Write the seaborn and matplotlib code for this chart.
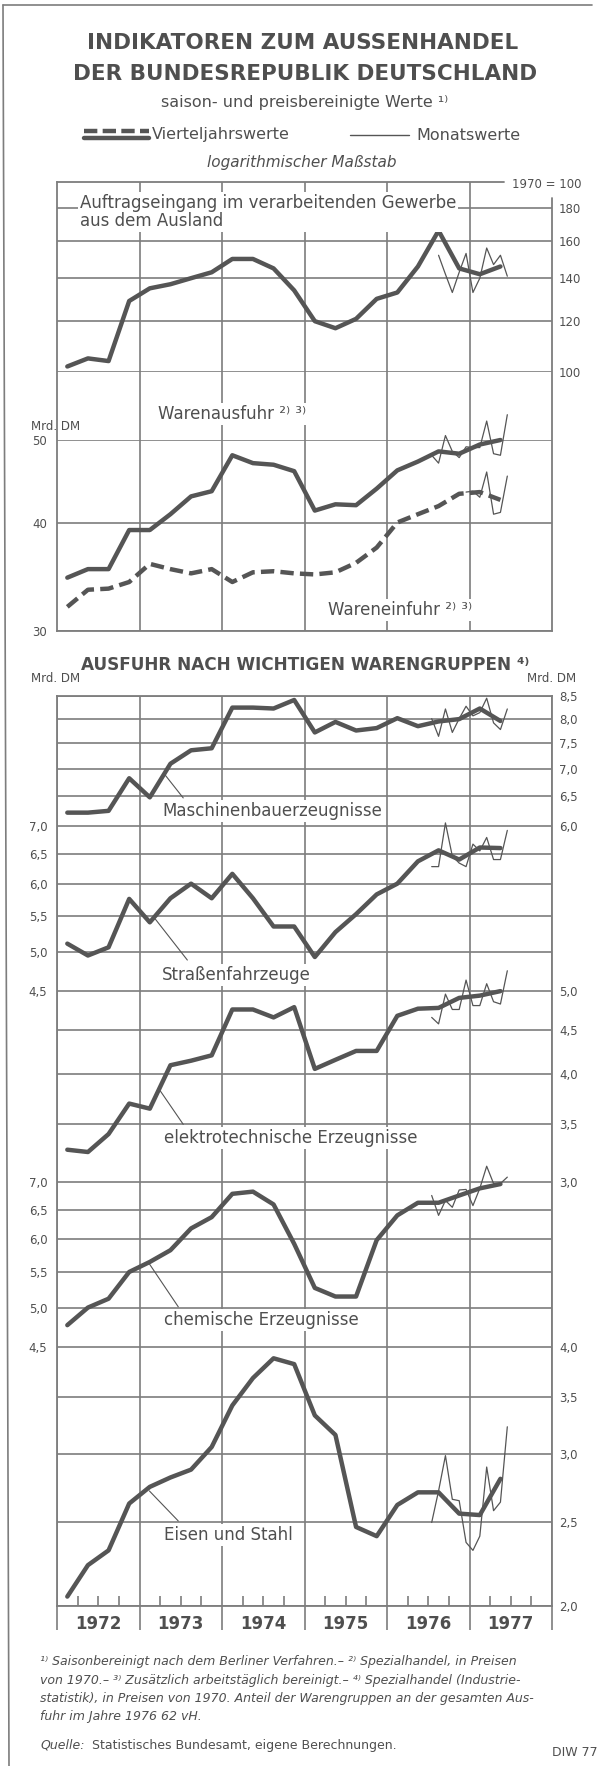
import numpy as np
import pandas as pd
import matplotlib
matplotlib.use("Agg")
import matplotlib.pyplot as plt
from matplotlib.lines import Line2D
from matplotlib.ticker import NullLocator
import seaborn as sns

# quarterly values 1972 Q1 - 1977 Q2 and monthly values from mid 1976
quarters = pd.period_range("1972Q1", "1977Q2", freq="Q")
months = pd.period_range("1976-07", "1977-06", freq="M")
years = [1972, 1973, 1974, 1975, 1976, 1977]

# Auftragseingang aus dem Ausland, 1970 = 100 (monthly from Aug 1976)
auftrag_q = [102, 105, 104, 129, 135, 137, 140, 143, 150, 150, 145, 134,
             120, 117, 121, 130, 133, 146, 166, 145, 142, 146]
auftrag_m = [152, 142, 133, 143, 153, 133, 140, 156, 147, 152, 141]

# Warenausfuhr / Wareneinfuhr, Mrd. DM (Einfuhr monthly from Dec 1976)
ausfuhr_q = [34.6, 35.4, 35.4, 39.3, 39.3, 41.0, 43.0, 43.6, 48.0, 47.0, 46.8, 46.0,
             41.4, 42.1, 42.0, 43.9, 46.1, 47.2, 48.5, 48.2, 49.4, 50.0]
ausfuhr_m = [48.0, 47.0, 50.6, 48.5, 47.7, 49.1, 49.0, 49.0, 52.6, 48.2, 48.0, 53.5]
einfuhr_q = [32.0, 33.5, 33.6, 34.2, 35.9, 35.4, 35.0, 35.4, 34.2, 35.1, 35.2, 35.0,
             34.9, 35.1, 36.0, 37.5, 40.1, 41.0, 41.9, 43.3, 43.5, 42.6]
einfuhr_m = [43.5, 43.6, 42.9, 45.9, 41.0, 41.2, 45.4]

# Ausfuhr nach Warengruppen, Mrd. DM
masch_q = [6.22, 6.22, 6.25, 6.82, 6.48, 7.09, 7.35, 7.39, 8.24, 8.24, 8.22, 8.41,
           7.71, 7.93, 7.75, 7.80, 8.01, 7.84, 7.94, 7.99, 8.22, 7.95]
masch_m = [8.00, 7.63, 8.21, 7.71, 8.00, 8.27, 8.06, 8.13, 8.45, 7.91, 7.77, 8.21]
strassen_q = [5.11, 4.95, 5.06, 5.76, 5.41, 5.77, 6.00, 5.77, 6.16, 5.77, 5.35, 5.35,
              4.93, 5.27, 5.53, 5.83, 6.00, 6.37, 6.56, 6.40, 6.61, 6.60]
strassen_m = [6.28, 6.28, 7.06, 6.46, 6.34, 6.28, 6.67, 6.55, 6.79, 6.40, 6.40, 6.92]
elektro_q = [3.27, 3.25, 3.41, 3.70, 3.65, 4.10, 4.15, 4.21, 4.76, 4.76, 4.66, 4.79,
             4.06, 4.16, 4.26, 4.26, 4.68, 4.77, 4.78, 4.91, 4.94, 5.00]
elektro_m = [4.66, 4.58, 4.96, 4.76, 4.76, 5.15, 4.81, 4.81, 5.10, 4.86, 4.83, 5.28]
chemie_q = [4.77, 5.00, 5.12, 5.50, 5.65, 5.83, 6.18, 6.37, 6.78, 6.82, 6.59, 5.93,
            5.27, 5.15, 5.15, 5.99, 6.40, 6.62, 6.62, 6.75, 6.88, 6.96]
chemie_m = [6.75, 6.40, 6.66, 6.54, 6.85, 6.86, 6.57, 6.88, 7.30, 6.97, 6.97, 7.09]
eisen_q = [2.05, 2.23, 2.32, 2.63, 2.75, 2.82, 2.88, 3.06, 3.42, 3.68, 3.88, 3.82,
           3.33, 3.16, 2.47, 2.41, 2.62, 2.71, 2.71, 2.56, 2.55, 2.81]
eisen_m = [2.50, 2.72, 2.99, 2.66, 2.65, 2.37, 2.32, 2.41, 2.90, 2.58, 2.64, 3.23]

# middle of each quarter / month as decimal year
qx = np.asarray(quarters.year + (quarters.quarter - 1) / 4 + 1 / 8, dtype=float)
mx = np.asarray(months.year + (months.month - 1) / 12 + 1 / 24, dtype=float)

TXT = "#4f4f4f"
LINE = "#555555"
GRID = "#7d7d7d"
LW_Q, LW_M = 3.2, 0.9

sns.set_theme(style="white")
plt.rcParams["font.family"] = ["DejaVu Sans"]
plt.rcParams["text.color"] = TXT

W, H = 599, 1766
fig = plt.figure(figsize=(W / 100, H / 100), dpi=100, facecolor="white")


def fx(px):
    return px / W


def fy(py):
    return 1 - py / H


def rect(l, t, r, b):
    return [l / W, 1 - b / H, (r - l) / W, (b - t) / H]


def comma(v):
    return f"{v:.1f}".replace(".", ",")


X0, X1 = 57, 552
UP_T, UP_B = 182, 631
LO_T = 696
K = 860  # pixels per decade (Mrd. DM panels)

# ---- frames with the year grid
ax_up = fig.add_axes(rect(X0, UP_T, X1, UP_B))
ax_up.set_xlim(1972, 1978)
ax_up.set_ylim(0, 1)
ax_up.set_xticks(range(1973, 1978))
ax_up.set_yticks([])
ax_up.tick_params(axis="x", length=0, labelbottom=False)
ax_up.grid(True, axis="x", color=GRID, lw=1.2)
for s in ["top", "right"]:
    ax_up.spines[s].set_visible(False)
for s in ["left", "bottom"]:
    ax_up.spines[s].set_color(GRID)
    ax_up.spines[s].set_linewidth(1.3)
ax_up.plot([0, (504 - X0) / (X1 - X0)], [1, 1], transform=ax_up.transAxes,
           color=GRID, lw=1.3, clip_on=False)
ax_up.plot([1, 1], [0, 1 - (198 - UP_T) / (UP_B - UP_T)], transform=ax_up.transAxes,
           color=GRID, lw=1.3, clip_on=False)

bounds = [LO_T]
for hi, lo in [(8.5, 6.0), (7.0, 4.5), (5.0, 3.0), (7.0, 4.5), (4.0, 2.0)]:
    bounds.append(bounds[-1] + K * np.log10(hi / lo))
LO_B = bounds[-1]

ax_lo = fig.add_axes(rect(X0, LO_T, X1, LO_B))
ax_lo.set_xlim(1972, 1978)
ax_lo.set_ylim(0, 1)
ax_lo.set_yticks([])
ax_lo.set_xticks(range(1972, 1979))
ax_lo.set_xticks([y + q / 4 for y in years for q in (1, 2, 3)], minor=True)
ax_lo.tick_params(axis="x", which="major", direction="out", length=17, width=1.2,
                  color=GRID, labelbottom=False, bottom=True)
ax_lo.tick_params(axis="x", which="minor", direction="in", length=7.5, width=1.2,
                  color=GRID, bottom=True)
ax_lo.grid(True, axis="x", which="major", color=GRID, lw=1.2)
for s in ax_lo.spines.values():
    s.set_color(GRID)
    s.set_linewidth(1.3)
for yr in years:
    ax_lo.text(yr + 0.5, -18 / (LO_B - LO_T), str(yr), transform=ax_lo.get_xaxis_transform(),
               ha="center", va="center", fontsize=12, fontweight="bold", color=TXT)


def panel(top, bottom, ylo, yhi, ticks, labels, side):
    ax = fig.add_axes(rect(X0, top, X1, bottom))
    ax.patch.set_alpha(0)
    ax.set_xlim(1972, 1978)
    ax.set_yscale("log")
    ax.set_ylim(ylo, yhi)
    ax.set_yticks(ticks, labels=labels)
    ax.yaxis.set_minor_locator(NullLocator())
    ax.set_xticks([])
    for s in ax.spines.values():
        s.set_visible(False)
    ax.grid(True, axis="y", color=GRID, lw=1.2)
    ax.set_axisbelow(True)
    if side == "right":
        ax.yaxis.tick_right()
        ax.tick_params(axis="y", length=0, pad=5, labelsize=8.5, labelcolor=TXT,
                       labelright=True, labelleft=False)
    else:
        ax.tick_params(axis="y", length=0, pad=7, labelsize=8.5, labelcolor=TXT)
    return ax


def draw(ax, xq, q, xm, m, dashed=False):
    kw = dict(linestyle=(0, (3, 1.4))) if dashed else {}
    sns.lineplot(x=xq, y=q, ax=ax, color=LINE, lw=LW_Q, clip_on=False,
                 solid_joinstyle="round", **kw)
    sns.lineplot(x=xm, y=m, ax=ax, color=LINE, lw=LW_M, clip_on=False)


# ---- upper block
axA = panel(UP_T, 372, 100, 100 * 10 ** ((372 - UP_T) / 642),
            [100, 120, 140, 160, 180], ["100", "120", "140", "160", "180"], "right")
draw(axA, qx, auftrag_q, mx[1:], auftrag_m)

axB = panel(440, UP_B, 30, 50, [30, 40, 50], ["30", "40", "50"], "left")
draw(axB, qx, einfuhr_q, mx[5:], einfuhr_m, dashed=True)
draw(axB, qx, ausfuhr_q, mx, ausfuhr_m)

# ---- lower block
ticks_m = [6.0, 6.5, 7.0, 7.5, 8.0, 8.5]
ax1 = panel(bounds[0], bounds[1], 6.0, 8.5, ticks_m, [comma(t) for t in ticks_m], "right")
draw(ax1, qx, masch_q, mx, masch_m)
ticks_s = [4.5, 5.0, 5.5, 6.0, 6.5, 7.0]
ax2 = panel(bounds[1], bounds[2], 4.5, 7.0, ticks_s, [comma(t) for t in ticks_s], "left")
draw(ax2, qx, strassen_q, mx, strassen_m)
ticks_e = [3.0, 3.5, 4.0, 4.5, 5.0]
ax3 = panel(bounds[2], bounds[3], 3.0, 5.0, ticks_e, [comma(t) for t in ticks_e], "right")
draw(ax3, qx, elektro_q, mx, elektro_m)
ax4 = panel(bounds[3], bounds[4], 4.5, 7.0, ticks_s, [comma(t) for t in ticks_s], "left")
draw(ax4, qx, chemie_q, mx, chemie_m)
ticks_i = [2.0, 2.5, 3.0, 3.5, 4.0]
ax5 = panel(bounds[4], bounds[5], 2.0, 4.0, ticks_i, [comma(t) for t in ticks_i], "right")
draw(ax5, qx, eisen_q, mx, eisen_m)

# leader lines from the curves to their labels
lead = dict(arrowstyle="-", lw=0.8, color=LINE, shrinkA=0, shrinkB=0)
ax1.annotate("", xy=(1973.30, 6.90), xytext=(1973.53, 6.47), arrowprops=lead, annotation_clip=False)
ax2.annotate("", xy=(1973.19, 5.46), xytext=(1973.58, 4.89), arrowprops=lead, annotation_clip=False)
ax3.annotate("", xy=(1973.25, 3.83), xytext=(1973.53, 3.50), arrowprops=lead, annotation_clip=False)
ax4.annotate("", xy=(1973.12, 5.62), xytext=(1973.47, 5.01), arrowprops=lead, annotation_clip=False)
ax5.annotate("", xy=(1973.12, 2.72), xytext=(1973.47, 2.51), arrowprops=lead, annotation_clip=False)

# ---- texts
box = dict(facecolor="white", edgecolor="none", pad=1.5)
fig.text(fx(303), fy(43), "INDIKATOREN ZUM AUSSENHANDEL", ha="center", va="center",
         fontsize=15.5, fontweight="bold")
fig.text(fx(305), fy(74), "DER BUNDESREPUBLIK DEUTSCHLAND", ha="center", va="center",
         fontsize=15.5, fontweight="bold")
fig.text(fx(305), fy(103), "saison- und preisbereinigte Werte ¹⁾", ha="center", va="center",
         fontsize=11.5)
fig.text(fx(302), fy(163), "logarithmischer Maßstab", ha="center", va="center",
         fontsize=11, style="italic")

fig.add_artist(Line2D([fx(84), fx(149)], [fy(131), fy(131)], lw=3.2, color=LINE,
                      linestyle=(0, (3, 1.2))))
fig.add_artist(Line2D([fx(84), fx(149)], [fy(137.5), fy(137.5)], lw=3.2, color=LINE))
fig.text(fx(152), fy(135), "Vierteljahrswerte", ha="left", va="center", fontsize=11.5)
fig.add_artist(Line2D([fx(350), fx(409)], [fy(135), fy(135)], lw=1.0, color=LINE))
fig.text(fx(416), fy(135), "Monatswerte", ha="left", va="center", fontsize=11.5)

fig.text(fx(582), fy(185), "1970 = 100", ha="right", va="center", fontsize=8.5)
fig.text(fx(80), fy(212), "Auftragseingang im verarbeitenden Gewerbe\naus dem Ausland",
         ha="left", va="center", fontsize=12, linespacing=1.05, bbox=box)
fig.text(fx(158), fy(414), "Warenausfuhr ²⁾ ³⁾", ha="left", va="center", fontsize=12, bbox=box)
fig.text(fx(328), fy(610), "Wareneinfuhr ²⁾ ³⁾", ha="left", va="center", fontsize=12, bbox=box)
fig.text(fx(31), fy(427), "Mrd. DM", ha="left", va="center", fontsize=8.5)

fig.text(fx(305), fy(665), "AUSFUHR NACH WICHTIGEN WARENGRUPPEN ⁴⁾", ha="center", va="center",
         fontsize=12.2, fontweight="bold")
fig.text(fx(31), fy(679), "Mrd. DM", ha="left", va="center", fontsize=8.5)
fig.text(fx(576), fy(679), "Mrd. DM", ha="right", va="center", fontsize=8.5)

fig.text(fx(162), fy(811), "Maschinenbauerzeugnisse", ha="left", va="center", fontsize=12, bbox=box)
fig.text(fx(162), fy(975), "Straßenfahrzeuge", ha="left", va="center", fontsize=12, bbox=box)
fig.text(fx(164), fy(1138), "elektrotechnische Erzeugnisse", ha="left", va="center", fontsize=12, bbox=box)
fig.text(fx(164), fy(1320), "chemische Erzeugnisse", ha="left", va="center", fontsize=12, bbox=box)
fig.text(fx(164), fy(1535), "Eisen und Stahl", ha="left", va="center", fontsize=12, bbox=box)

notes = [
    "¹⁾ Saisonbereinigt nach dem Berliner Verfahren.– ²⁾ Spezialhandel, in Preisen",
    "von 1970.– ³⁾ Zusätzlich arbeitstäglich bereinigt.– ⁴⁾ Spezialhandel (Industrie-",
    "statistik), in Preisen von 1970. Anteil der Warengruppen an der gesamten Aus-",
    "fuhr im Jahre 1976 62 vH.",
]
for i, line in enumerate(notes):
    fig.text(fx(40), fy(1662 + 18.3 * i), line, ha="left", va="center", fontsize=9, style="italic")
fig.text(fx(40), fy(1745), "Quelle:", ha="left", va="center", fontsize=9, style="italic")
fig.text(fx(92), fy(1745), "Statistisches Bundesamt, eigene Berechnungen.", ha="left",
         va="center", fontsize=9)
fig.text(fx(598), fy(1753), "DIW 77", ha="right", va="center", fontsize=9)

# page border
fig.add_artist(Line2D([fx(3), fx(9)], [fy(5), fy(1766)], lw=1.2, color=GRID))
fig.add_artist(Line2D([fx(3), fx(592)], [fy(5), fy(5)], lw=1.2, color=GRID))

fig.savefig("out.png", dpi=100, facecolor="white")
